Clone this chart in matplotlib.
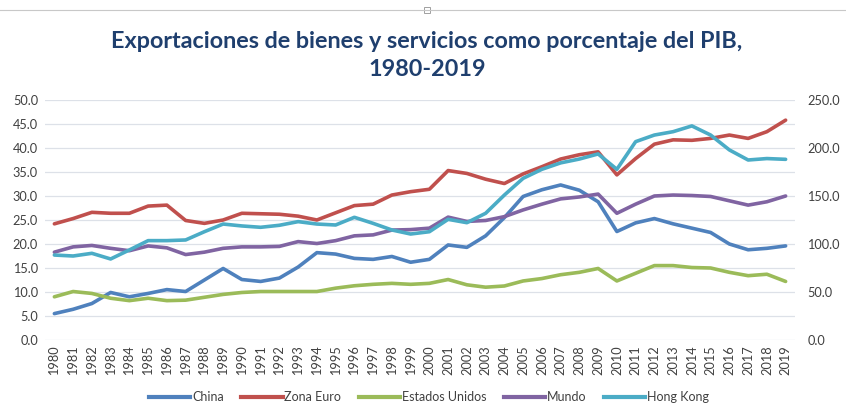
import numpy as np
import matplotlib
matplotlib.use("Agg")
import matplotlib.pyplot as plt
from matplotlib.lines import Line2D
from matplotlib.patches import Rectangle

years = list(range(1980, 2020))
china = [5.5, 6.4, 7.6, 9.9, 9.0, 9.7, 10.5, 10.1, 12.5, 14.9,
         12.6, 12.2, 12.9, 15.2, 18.2, 17.9, 17.0, 16.8, 17.4, 16.2,
         16.8, 19.8, 19.3, 21.7, 25.5, 29.9, 31.3, 32.3, 31.2, 28.8,
         22.6, 24.4, 25.3, 24.2, 23.3, 22.4, 20.0, 18.8, 19.1, 19.6]
zona_euro = [24.2, 25.3, 26.6, 26.4, 26.4, 27.9, 28.1, 24.9, 24.3, 25.0,
             26.4, 26.3, 26.2, 25.8, 25.0, 26.5, 28.0, 28.3, 30.2, 30.9,
             31.4, 35.3, 34.7, 33.5, 32.6, 34.6, 36.1, 37.7, 38.6, 39.2,
             34.4, 37.8, 40.8, 41.7, 41.6, 42.0, 42.7, 42.0, 43.4, 45.8]
estados_unidos = [9.0, 10.1, 9.7, 8.7, 8.2, 8.7, 8.2, 8.3, 8.9, 9.5,
                  9.9, 10.1, 10.1, 10.1, 10.1, 10.8, 11.3, 11.6, 11.8, 11.6,
                  11.8, 12.6, 11.5, 11.0, 11.25, 12.3, 12.8, 13.6, 14.1, 14.9,
                  12.3, 13.9, 15.5, 15.5, 15.1, 15.0, 14.1, 13.4, 13.7, 12.2]
mundo = [18.3, 19.4, 19.7, 19.1, 18.6, 19.6, 19.2, 17.8, 18.3, 19.1,
         19.4, 19.4, 19.5, 20.5, 20.1, 20.7, 21.7, 21.9, 22.9, 23.0,
         23.3, 25.6, 24.7, 24.9, 25.7, 27.1, 28.3, 29.4, 29.8, 30.4,
         26.4, 28.3, 30.0, 30.2, 30.1, 29.9, 29.0, 28.1, 28.8, 30.0]
hong_kong = [88.5, 87.5, 90.3, 84.4, 93.8, 103.5, 103.5, 104.2, 112.8, 120.8,
             118.8, 117.4, 119.5, 123.3, 120.8, 119.8, 127.8, 121.5, 114.6, 110.4,
             112.8, 125.7, 122.2, 132.0, 151.0, 168.4, 177.8, 184.5, 188.5, 193.8,
             177.8, 206.6, 213.5, 217.0, 223.0, 213.5, 198.0, 187.5, 189.0, 188.2]

left_ticks = np.arange(0, 50.1, 5)
right_ticks = np.arange(0, 250.1, 50)

colors = {"China": "#4F81BD", "Zona Euro": "#C0504D", "Estados Unidos": "#9BBB59",
          "Mundo": "#8064A2", "Hong Kong": "#4BACC6"}

plt.rcParams["font.family"] = ["Lato", "DejaVu Sans"]

W, H = 846, 407
fig = plt.figure(figsize=(W / 100, H / 100), dpi=100)
fig.patch.set_facecolor("white")

ax = fig.add_axes([45 / W, 67 / H, 750 / W, 240 / H])
ax2 = ax.twinx()

x = np.arange(len(years))
lw = 2.6
kw = dict(lw=lw, solid_joinstyle="round", solid_capstyle="round")
ax.plot(x, china, color=colors["China"], **kw)
ax.plot(x, zona_euro, color=colors["Zona Euro"], **kw)
ax.plot(x, estados_unidos, color=colors["Estados Unidos"], **kw)
ax.plot(x, mundo, color=colors["Mundo"], **kw)
ax2.plot(x, hong_kong, color=colors["Hong Kong"], **kw)

ax.set_xlim(-0.5, len(years) - 0.5)
ax.set_ylim(0, 50)
ax2.set_ylim(0, 250)
ax.set_yticks(left_ticks)
ax.set_yticklabels([f"{v:.1f}" for v in left_ticks])
ax2.set_yticks(right_ticks)
ax2.set_yticklabels([f"{v:.1f}" for v in right_ticks])
ax.set_xticks(x)
ax.set_xticklabels([str(y) for y in years], rotation=90)

tick_color = "#404040"
ax.tick_params(axis="y", length=0, pad=5, labelsize=9.2, labelcolor=tick_color)
ax2.tick_params(axis="y", length=0, pad=9, labelsize=9.2, labelcolor=tick_color)
ax.tick_params(axis="x", length=0, pad=4, labelsize=9.2, labelcolor=tick_color)

ax.yaxis.grid(True, color="#DDE1E8", lw=0.9)
ax.set_axisbelow(True)
for a in (ax, ax2):
    for s in a.spines.values():
        s.set_visible(False)

title_color = "#1F3F6E"
fig.text(427 / W, 1 - 42 / H, "Exportaciones de bienes y servicios como porcentaje del PIB,",
         ha="center", va="center", fontsize=16.8, fontweight="bold", color=title_color)
fig.text(427 / W, 1 - 69 / H, "1980-2019",
         ha="center", va="center", fontsize=16.8, fontweight="bold", color=title_color)

handles = [Line2D([], [], color=colors[k], lw=3) for k in colors]
fig.legend(handles, list(colors.keys()), loc="center", bbox_to_anchor=(429 / W, 1 - 397 / H),
           ncol=5, frameon=False, fontsize=9, handlelength=3.3, handletextpad=0.15,
           columnspacing=1.4, labelcolor=tick_color)

fig.add_artist(Line2D([0, 1], [1 - 10 / H] * 2, transform=fig.transFigure, color="#C8C8C8", lw=0.8))
fig.add_artist(Rectangle((424 / W, 1 - 13 / H), 6 / W, 6 / H, transform=fig.transFigure,
                         facecolor="white", edgecolor="#A0A0A0", lw=0.7))

fig.savefig("out.png", dpi=100)
